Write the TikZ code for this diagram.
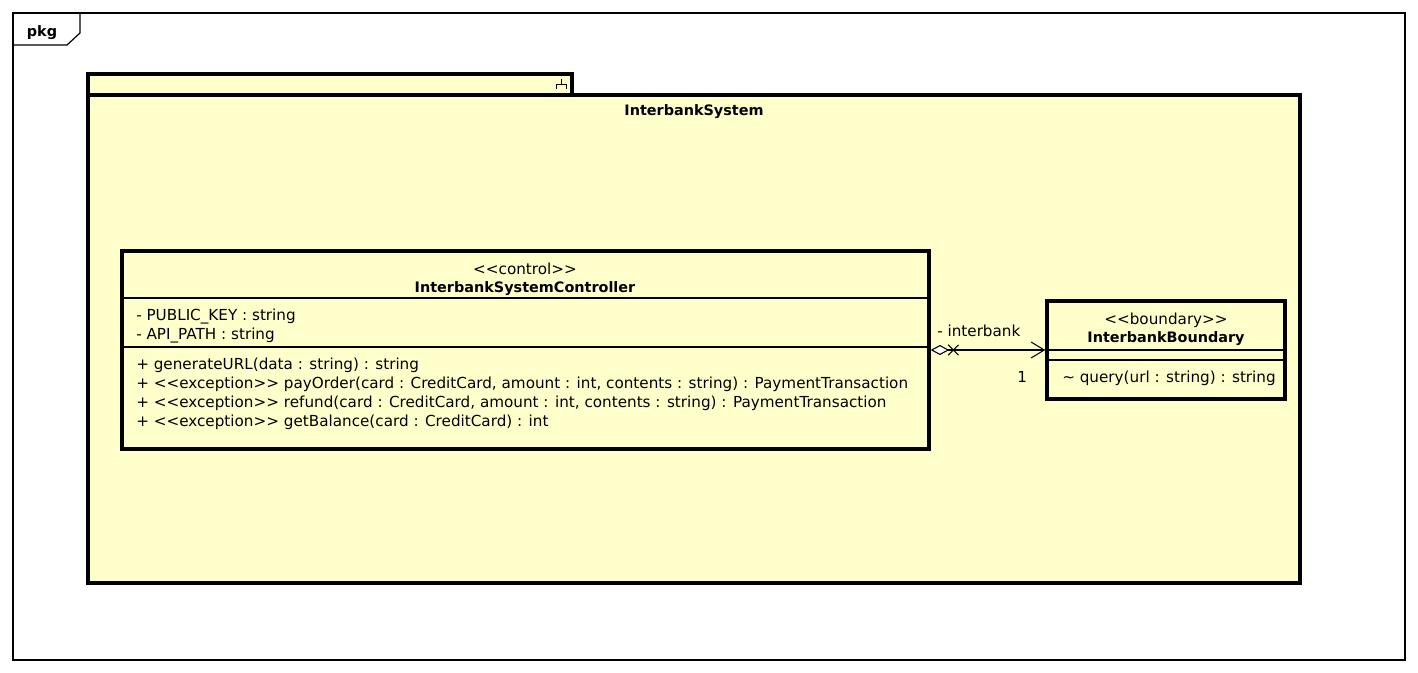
\documentclass[tikz,border=0pt]{standalone}
\usepackage{fontspec}
\setmainfont{DejaVu Sans}
\usetikzlibrary{arrows.meta,fit,shapes.misc,positioning}
\definecolor{umlyellow}{RGB}{255,255,204}
\tikzset{
  pkgbox/.style={draw, line width=2.3pt, fill=umlyellow, inner sep=0pt},
  classbox/.style={draw, line width=2.4pt, fill=umlyellow, inner sep=0pt},
  sepline/.style={line width=0.8pt},
  member/.style={anchor=base west, inner sep=0pt, font=\fontsize{11.4}{13}\selectfont},
  stereo/.style={anchor=base, inner sep=0pt, font=\fontsize{11.4}{13}\selectfont},
  title/.style={anchor=base, inner sep=0pt, font=\fontsize{10.8}{13}\selectfont\bfseries},
}
\begin{document}
\begin{tikzpicture}[x=0.75pt,y=-0.75pt]
  \useasboundingbox[fill=white] (0,0) rectangle (1418,673);
  % outer frame
  \draw[line width=0.9pt] (13,13) rectangle (1405,660);
  \draw[line width=0.9pt] (13,45) -- (67,45) -- (80,33) -- (80,13);
  \node[title] (pkglabel) at (42,37) {pkg};
  % package
  \node[pkgbox, fit={(88,74) (572,95)}] (systab) {};
  \node[pkgbox, fit={(88,95) (1300,583)}] (sysbody) {};
  \draw[line width=0.7pt] (556,89) -- (556,84) -- (566,84) -- (566,89) (561,84) -- (561,79);
  \node[title] (sysname) at (694,116) {InterbankSystem};
  % controller
  \node[classbox, fit={(122,251) (929,449)}] (ctrl) {};
  \node[stereo] (ctrlstereo) at (525,275) {<{}<control>{}>};
  \node[title] (ctrlname) at (525,293) {InterbankSystemController};
  \draw[sepline] (ctrl.west |- 0,298) -- (ctrl.east |- 0,298);
  \node[member] (pubkey) at (136,321) {- PUBLIC\_KEY : string};
  \node[member] (apipath) at (136,340) {- API\_PATH : string};
  \draw[sepline] (ctrl.west |- 0,347) -- (ctrl.east |- 0,347);
  \node[member] (genurl) at (136,370) {+ generateURL(data : string) : string};
  \node[member] (payorder) at (136,389) {+ <{}<exception>{}> payOrder(card : CreditCard, amount : int, contents : string) : PaymentTransaction};
  \node[member] (refund) at (136,408) {+ <{}<exception>{}> refund(card : CreditCard, amount : int, contents : string) : PaymentTransaction};
  \node[member] (balance) at (136,427) {+ <{}<exception>{}> getBalance(card : CreditCard) : int};
  % boundary
  \node[classbox, fit={(1047,301) (1285,399)}] (bnd) {};
  \node[stereo] (bndstereo) at (1166,325) {<{}<boundary>{}>};
  \node[title] (bndname) at (1166,343) {InterbankBoundary};
  \draw[sepline] (bnd.west |- 0,350) -- (bnd.east |- 0,350);
  \draw[sepline] (bnd.west |- 0,360) -- (bnd.east |- 0,360);
  \node[member] (query) at (1062,383) {\textasciitilde{} query(url : string) : string};
  % association
  \coordinate (assocstart) at (ctrl.east |- bnd.west);
  \draw[line width=0.8pt, {Diamond[fill=white, length=14pt, width=7.5pt]}-{Straight Barb[length=10pt, width=12pt]}]
    (assocstart) -- (bnd.west);
  \node[cross out, draw, line width=0.8pt, minimum size=7pt, inner sep=0pt] (navx) at ([xshift=17pt]assocstart) {};
  \node[member] (rolename) at (937,337) {- interbank};
  \node[member] (mult) at (1017,383) {1};
\end{tikzpicture}
\end{document}
